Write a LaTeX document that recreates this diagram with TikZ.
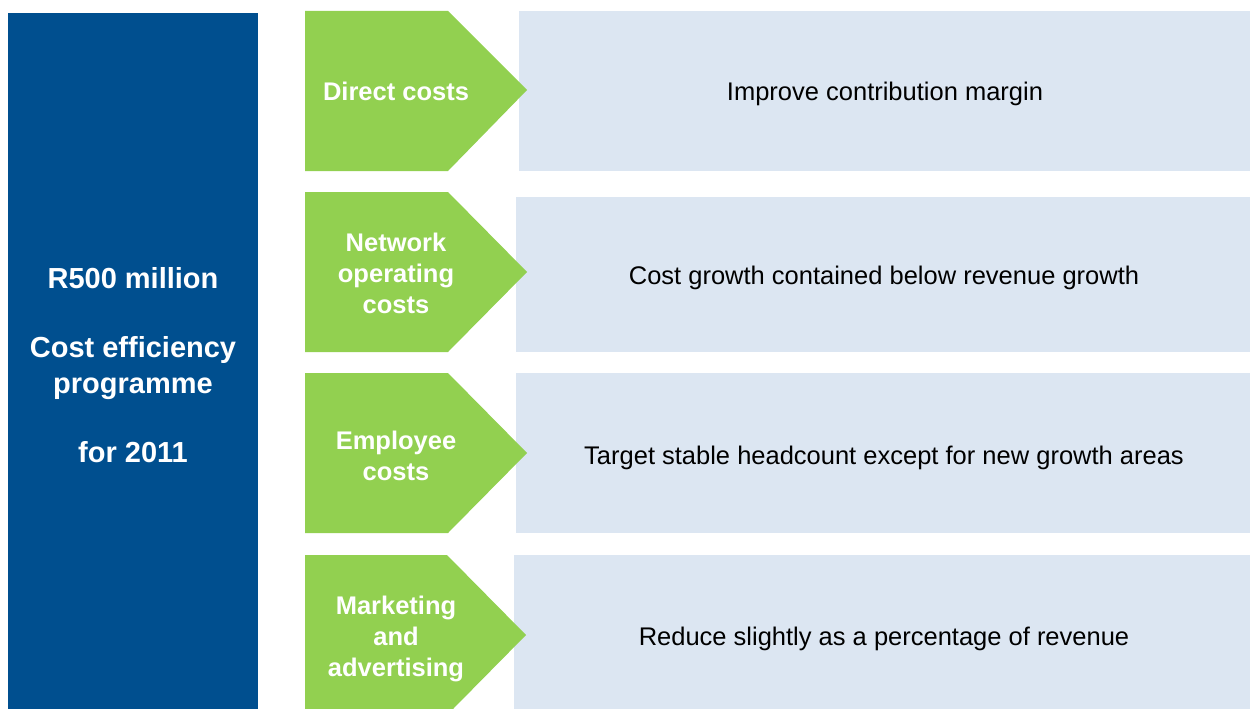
\documentclass[tikz,border=0pt]{standalone}
\usepackage{fontspec}
\setmainfont{Liberation Sans}
\definecolor{progblue}{RGB}{0,79,143}
\definecolor{costgreen}{RGB}{146,208,80}
\definecolor{panelblue}{RGB}{220,230,242}
\begin{document}
\begin{tikzpicture}[x=1pt,y=-1pt,
  titletext/.style={text=white,font=\bfseries\fontsize{29}{36}\selectfont,align=center,inner sep=0pt},
  cattext/.style={text=white,font=\bfseries\fontsize{25.5}{31}\selectfont,align=center,inner sep=0pt},
  goaltext/.style={text=black,font=\fontsize{25.5}{31}\selectfont,align=center,inner sep=0pt},
  chevron/.style={fill=costgreen,draw=none},
  panel/.style={fill=panelblue,draw=none}]
\useasboundingbox (0,0) rectangle (1250,709);

% programme column
\fill[progblue] (8,13) rectangle (258,709);
\node[titletext] (prog) at (133,365) {R500 million\\[33pt]Cost efficiency\\programme\\[33pt]for 2011};

% goal panels (drawn first so the chevron tips lie on top)
\fill[panel] (519,11) rectangle (1250,171);
\fill[panel] (516,197) rectangle (1250,352);
\fill[panel] (516,373) rectangle (1250,533);
\fill[panel] (514,555) rectangle (1250,709);

% cost category chevrons
\fill[chevron] (305,11) -- (448,11) -- (527,90) -- (448,171) -- (305,171) -- cycle;
\fill[chevron] (305,192) -- (448,192) -- (527,272) -- (448,352) -- (305,352) -- cycle;
\fill[chevron] (305,373) -- (448,373) -- (527,453) -- (448,533) -- (305,533) -- cycle;
\fill[chevron] (305,555) -- (447,555) -- (526,635) -- (453,709) -- (305,709) -- cycle;

% row texts
\node[cattext] (c1) at (396,91) {Direct costs};
\node[goaltext] (g1) at (885,94) {Improve contribution margin};

\node[cattext] (c2) at (396,273) {Network\\operating\\costs};
\node[goaltext] (g2) at (884,278) {Cost growth contained below revenue growth};

\node[cattext] (c3) at (396,456) {Employee\\costs};
\node[goaltext] (g3) at (884,458) {Target stable headcount except for new growth areas};

\node[cattext] (c4) at (396,639) {Marketing\\and\\advertising};
\node[goaltext] (g4) at (884,639) {Reduce slightly as a percentage of revenue};
\end{tikzpicture}
\end{document}
